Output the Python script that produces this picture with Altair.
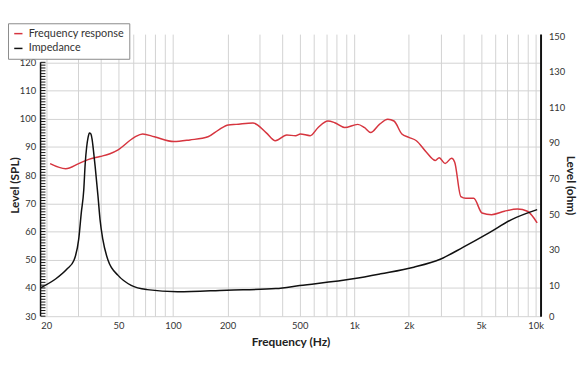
import altair as alt
import pandas as pd

# ---- data ----
fr_freq = [21, 25.6, 30.2, 34.3, 39.6, 44.9, 49.8, 61.2, 68, 78.9, 101, 124, 156, 178, 202, 223, 276,
           326, 367, 424, 475, 504, 571, 632, 715, 780, 885, 1045, 1136, 1232, 1376, 1530, 1655, 1830,
           2000, 2200, 2500, 2800, 2940, 3170, 3440, 3580, 3870, 4120, 4560, 5060, 5720, 6730, 7950,
           9010, 10200]
fr_spl = [84.1, 82.3, 84.1, 85.6, 86.6, 87.6, 89, 93.4, 94.6, 93.6, 91.9, 92.5, 93.6, 96, 97.8, 98, 98.5,
          95.1, 92.2, 94.2, 94, 94.6, 94, 96.9, 99.2, 98.6, 96.9, 98, 96.9, 95.1, 98, 99.8, 99.2, 94.6,
          93.4, 92.2, 88.1, 85.2, 86.2, 84.1, 86.0, 84.6, 72.4, 71.8, 71.8, 66.6, 66.0, 67.2, 68.0,
          67.2, 63.1]

imp_freq = [18.6, 22.6, 26.1, 28.4, 30.2, 31.2, 32.2, 32.8, 33.4, 34.0, 34.6, 35.2, 35.8, 36.4, 37.2,
            38.6, 39.6, 41, 43.9, 49.8, 58.8, 72, 106, 198, 369, 500, 985, 1400, 2130, 3000, 3970,
            5560, 7370, 10200]
imp_ohm = [8.7, 13.8, 19.4, 24, 36, 50.8, 63.6, 78.5, 87.6, 93.0, 95.6, 95.2, 92.0, 86.0, 77.0,
           59.9, 47, 36, 24, 15.7, 10.1, 7.7, 6.5, 7.4, 8.3, 10, 13.8, 16.6, 20.3, 24.9, 31.4,
           39.7, 47, 52.6]

series_names = ["Frequency response", "Impedance"]
x_grid = [20, 30, 40, 50, 60, 70, 80, 90, 100, 200, 300, 400, 500, 600, 700, 800, 900,
          1000, 2000, 3000, 4000, 5000, 6000, 7000, 8000, 9000, 10000]
x_labels = [20, 50, 100, 200, 500, 1000, 2000, 5000, 10000]
spl_labels = [30, 40, 50, 60, 70, 80, 90, 100, 110, 120]
spl_minor = list(range(30, 121))
ohm_labels = [-7.2, 10, 30, 50, 70, 90, 110, 130, 150]

RED = "#d6353f"
BLACK = "#111111"
FONT = "Lato"
GRID = "#d2d2d2"

fr = pd.DataFrame({"freq": fr_freq, "spl": fr_spl, "series": series_names[0]})
imp = pd.DataFrame({"freq": imp_freq, "ohm": imp_ohm, "series": series_names[1]})
minor = pd.DataFrame({"v": spl_minor})
axline = pd.DataFrame({"a": [spl_labels[0]], "b": [spl_labels[-1]]})

SPL_DOMAIN = [30, 130]
xscale = alt.Scale(type="log", domain=[18.6, 10650], nice=False)

label_list = "[" + ",".join(str(v) for v in x_labels) + "]"
xaxis = alt.Axis(
    values=x_grid,
    labelExpr=f"indexof({label_list}, datum.value) >= 0 ? (datum.value >= 1000 ? (datum.value/1000) + 'k' : datum.value + '') : ''",
    grid=True, gridColor=GRID, gridWidth=1, ticks=False, domain=False,
    labelOverlap=False, labelFlush=False, labelPadding=4,
    title="Frequency (Hz)", titlePadding=7,
)

color = alt.Color(
    "series:N",
    scale=alt.Scale(domain=series_names, range=[RED, BLACK]),
    legend=alt.Legend(
        title=None, orient="none", legendX=-33, legendY=-11,
        symbolType="stroke", symbolSize=70, symbolStrokeWidth=1.5,
        labelFont=FONT, labelFontSize=11, labelColor="#333",
        fillColor="white", strokeColor="#8a8a8a", padding=5,
        rowPadding=3, labelOffset=5,
    ),
)

red = alt.Chart(fr).mark_line(interpolate="monotone", strokeWidth=1.5).encode(
    x=alt.X("freq:Q", scale=xscale, axis=xaxis),
    y=alt.Y("spl:Q", scale=alt.Scale(domain=SPL_DOMAIN, nice=False, zero=False),
            axis=alt.Axis(values=spl_labels, orient="left", grid=True, gridColor=GRID,
                          ticks=False, domain=False, labelPadding=5,
                          title="Level (SPL)", titleX=-26, titleY=153,
                          titleBaseline="middle")),
    color=color,
)

black = alt.Chart(imp).mark_line(interpolate="monotone", strokeWidth=1.5).encode(
    x=alt.X("freq:Q", scale=xscale, axis=xaxis),
    y=alt.Y("ohm:Q", scale=alt.Scale(domain=[-7.2, 151.1], nice=False, zero=False),
            axis=alt.Axis(values=ohm_labels, orient="right", grid=False, ticks=False,
                          domain=True, domainColor=BLACK, domainWidth=2,
                          labelExpr="datum.value < 0 ? '0' : datum.label",
                          labelPadding=8, title="Level (ohm)", titleX=30, titleY=153,
                          titleBaseline="middle")),
    color=color,
)

ticks = alt.Chart(minor).mark_rule(color=BLACK, strokeWidth=1).encode(
    y=alt.Y("v:Q", scale=alt.Scale(domain=SPL_DOMAIN, nice=False, zero=False), axis=None),
    x=alt.value(0), x2=alt.value(5),
)

vline = alt.Chart(axline).mark_rule(color=BLACK, strokeWidth=1.5).encode(
    y=alt.Y("a:Q", scale=alt.Scale(domain=SPL_DOMAIN, nice=False, zero=False), axis=None),
    y2="b:Q",
    x=alt.value(0),
)

chart = alt.layer(red, black, ticks, vline).resolve_scale(y="independent").properties(
    width=507, height=286,
    autosize=alt.AutoSizeParams(type="none"),
    padding={"left": 33, "top": 24, "right": 40, "bottom": 46},
).configure_view(stroke=None).configure_axis(
    labelFont=FONT, labelFontSize=9.5, labelColor="#333",
    titleFont=FONT, titleFontSize=12, titleFontWeight="bold", titleColor="#222",
)

chart.save("out.html", embed_options={"renderer": "svg", "actions": False})
